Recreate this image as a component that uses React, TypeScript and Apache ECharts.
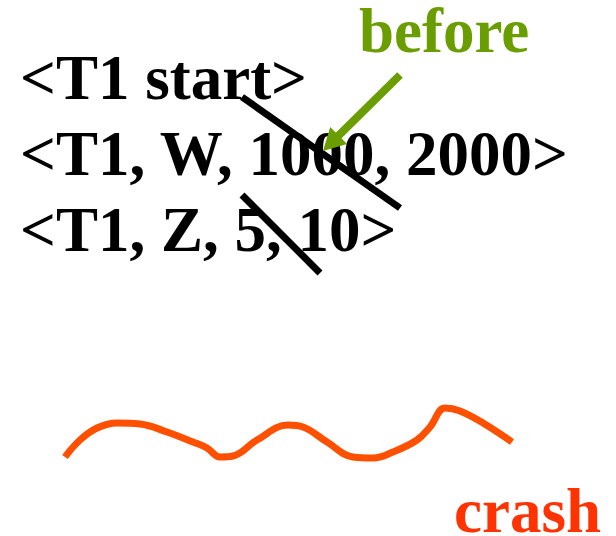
import React, { useEffect, useRef } from "react";
import * as echarts from "echarts";

const W = 616;
const H = 536;

// Text lines of the log record: [text, x, baseline]
const logLines: [string, number, number][] = [
  ["<T1 start>", 20, 99],
  ["<T1, W, 1000, 2000>", 20, 175],
  ["<T1, Z, 5, 10>", 20, 251],
];
const beforeLabel: [string, number, number] = ["before", 359, 52];
const crashLabel: [string, number, number] = ["crash", 454, 532];

// Strike-through lines
const strike1: [number, number][] = [[242, 97], [400, 208]];
const strike2: [number, number][] = [[242, 195], [320, 273]];

// Arrow from "before"
const arrowStart: [number, number] = [400, 75];
const arrowTip: [number, number] = [323, 151];

// Crash squiggle
const crashCurve: [number, number][] = [
  [65, 457], [80, 440], [97, 428], [117, 423], [140, 424], [167, 432],
  [193, 442], [207, 448], [220, 457], [233, 456], [257, 440], [288, 425],
  [303, 427], [327, 442], [353, 457], [373, 458], [393, 452], [417, 440],
  [430, 427], [445, 408], [460, 411], [483, 423], [512, 442],
];

const FONT = "'Liberation Serif', 'Times New Roman', serif";
const GREEN = "#6A9E00";
const ORANGE = "#FF5000";
const RED = "#FF3300";

export default function App() {
  const ref = useRef<HTMLDivElement>(null);
  useEffect(() => {
    document.body.style.margin = "0";
    if (!ref.current) return;
    const chart = echarts.init(ref.current, undefined, { renderer: "svg" });

    const dx = arrowTip[0] - arrowStart[0];
    const dy = arrowTip[1] - arrowStart[1];
    const len = Math.hypot(dx, dy);
    const ux = dx / len;
    const uy = dy / len;
    const headLen = 22;
    const headHalf = 12;
    const bx = arrowTip[0] - ux * headLen;
    const by = arrowTip[1] - uy * headLen;
    const shaftEnd: [number, number] = [bx + ux * 2, by + uy * 2];

    const textEl = (t: [string, number, number], color: string) => ({
      type: "text",
      x: t[1],
      y: t[2] - 21,
      style: {
        text: t[0],
        fill: color,
        font: `bold 63px ${FONT}`,
        textAlign: "left",
        textVerticalAlign: "middle",
        verticalAlign: "middle",
      },
      z: 10,
    });

    const lineSeries = (data: [number, number][], color: string, width: number, smooth: boolean | number = false) => ({
      type: "line",
      data,
      smooth,
      symbol: "none",
      lineStyle: { color, width, cap: "butt" },
      silent: true,
      z: 5,
    });

    chart.setOption({
      animation: false,
      grid: { left: 0, right: 0, top: 0, bottom: 0 },
      xAxis: { type: "value", min: 0, max: W, show: false },
      yAxis: { type: "value", min: 0, max: H, inverse: true, show: false },
      series: [
        lineSeries(crashCurve, ORANGE, 7, 0.4),
        lineSeries(strike1, "#000", 7),
        lineSeries(strike2, "#000", 7),
        lineSeries([arrowStart, shaftEnd], GREEN, 8),
      ],
      graphic: [
        ...logLines.map((l) => textEl(l, "#000")),
        textEl(beforeLabel, GREEN),
        textEl(crashLabel, RED),
        {
          type: "polygon",
          shape: {
            points: [
              arrowTip,
              [bx - uy * headHalf, by + ux * headHalf],
              [bx + uy * headHalf, by - ux * headHalf],
            ],
          },
          style: { fill: GREEN },
          z: 20,
        },
      ],
    });
    return () => chart.dispose();
  }, []);
  return <div ref={ref} style={{ width: W, height: H }} />;
}
